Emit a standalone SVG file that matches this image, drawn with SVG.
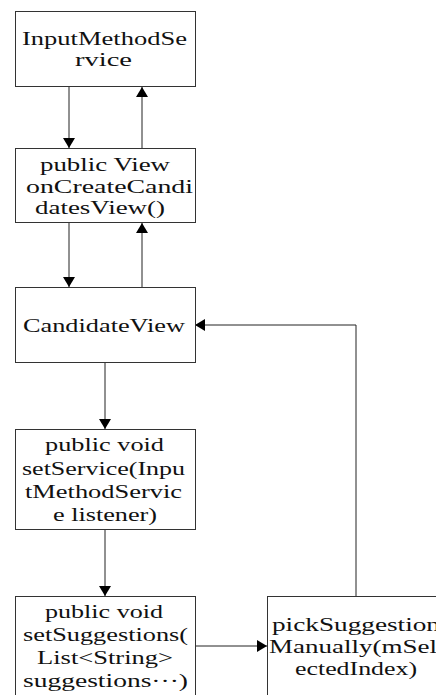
<svg xmlns="http://www.w3.org/2000/svg" width="436" height="695" viewBox="0 0 436 695">
<style>
rect.box{fill:#fff;stroke:#333;stroke-width:1}
text{font-family:"Liberation Serif","Times New Roman",serif;font-size:19px;fill:#111}
.c{fill:none;stroke:#222;stroke-width:1}
</style>
<defs>
<marker id="ah" viewBox="0 0 10 12" refX="10" refY="6" markerWidth="10" markerHeight="12" markerUnits="userSpaceOnUse" orient="auto">
<path d="M0,0 L10,6 L0,12 Z" fill="#000"/>
</marker>
</defs>
<rect width="436" height="695" fill="#fff"/>
<g id="connectors">
<path class="c" d="M69,87 V148" marker-end="url(#ah)"/>
<path class="c" d="M142,148 V87" marker-end="url(#ah)"/>
<path class="c" d="M69,223 V287" marker-end="url(#ah)"/>
<path class="c" d="M142,287 V223" marker-end="url(#ah)"/>
<path class="c" d="M105,363 V429" marker-end="url(#ah)"/>
<path class="c" d="M105,529 V596" marker-end="url(#ah)"/>
<path class="c" d="M195,646 H267" marker-end="url(#ah)"/>
<path class="c" d="M356,596 V325 H195" marker-end="url(#ah)"/>
</g>
<g id="n1">
<rect class="box" x="15.5" y="11.5" width="180" height="75"/>
<text x="22" y="45" textLength="165" lengthAdjust="spacingAndGlyphs">InputMethodSe</text>
<text x="75" y="66" textLength="57" lengthAdjust="spacingAndGlyphs">rvice</text>
</g>
<g id="n2">
<rect class="box" x="15.5" y="148.5" width="180" height="74"/>
<text x="40" y="171" textLength="130" lengthAdjust="spacingAndGlyphs">public View</text>
<text x="26" y="193" textLength="167" lengthAdjust="spacingAndGlyphs">onCreateCandi</text>
<text x="35" y="214" textLength="130" lengthAdjust="spacingAndGlyphs">datesView()</text>
</g>
<g id="n3">
<rect class="box" x="15.5" y="287.5" width="180" height="75"/>
<text x="23" y="332" textLength="162" lengthAdjust="spacingAndGlyphs">CandidateView</text>
</g>
<g id="n4">
<rect class="box" x="15.5" y="429.5" width="180" height="100"/>
<text x="45" y="451" textLength="119" lengthAdjust="spacingAndGlyphs">public void</text>
<text x="22" y="475" textLength="163" lengthAdjust="spacingAndGlyphs">setService(Inpu</text>
<text x="25" y="498" textLength="157" lengthAdjust="spacingAndGlyphs">tMethodServic</text>
<text x="53" y="521" textLength="104" lengthAdjust="spacingAndGlyphs">e listener)</text>
</g>
<g id="n5">
<rect class="box" x="15.5" y="596.5" width="180" height="110"/>
<text x="45" y="618" textLength="118" lengthAdjust="spacingAndGlyphs">public void</text>
<text x="23" y="641" textLength="165" lengthAdjust="spacingAndGlyphs">setSuggestions(</text>
<text x="37" y="664" textLength="136" lengthAdjust="spacingAndGlyphs">List&lt;String&gt;</text>
<text x="23" y="687" textLength="165" lengthAdjust="spacingAndGlyphs">suggestions···)</text>
</g>
<g id="n6">
<rect class="box" x="267.5" y="596.5" width="180" height="110"/>
<text x="272" y="631" textLength="168" lengthAdjust="spacingAndGlyphs">pickSuggestion</text>
<text x="269" y="653" textLength="168" lengthAdjust="spacingAndGlyphs">Manually(mSel</text>
<text x="295" y="675" textLength="122" lengthAdjust="spacingAndGlyphs">ectedIndex)</text>
</g>
</svg>
